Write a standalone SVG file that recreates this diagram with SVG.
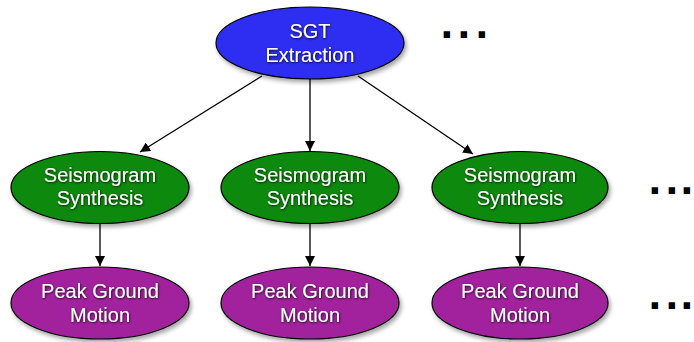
<svg xmlns="http://www.w3.org/2000/svg" width="694" height="342" viewBox="0 0 694 342">
  <defs>
    <filter id="shadow" x="-20%" y="-30%" width="140%" height="160%">
      <feDropShadow dx="2" dy="3" stdDeviation="2" flood-color="#000" flood-opacity="0.35"/>
    </filter>
    <filter id="textShadow" x="-10%" y="-30%" width="120%" height="160%">
      <feDropShadow dx="0.6" dy="0.8" stdDeviation="0.8" flood-color="#000" flood-opacity="0.9"/>
    </filter>
    <marker id="arrow" viewBox="0 0 10 10" refX="10" refY="5" markerWidth="10" markerHeight="10" markerUnits="userSpaceOnUse" orient="auto">
      <path d="M0,0 L10,5 L0,10 z" fill="#000"/>
    </marker>
    <style>
      .node ellipse { stroke: #000; stroke-width: 1.2; filter: url(#shadow); }
      .sgt ellipse { fill: #2d2df2; }
      .syn ellipse { fill: #078a07; }
      .pgm ellipse { fill: #a2239e; }
      .node text { font-family: "Liberation Sans", Arial, sans-serif; font-size: 20px; fill: #fff; text-anchor: middle; filter: url(#textShadow); }
      .edges line { stroke: #000; stroke-width: 1.3; marker-end: url(#arrow); }
      .more { font-family: "DejaVu Sans", sans-serif; font-weight: bold; font-size: 36px; fill: #000; }
    </style>
  </defs>

  <!-- connectors -->
  <g id="edges" class="edges">
    <line x1="262" y1="76" x2="140" y2="152"/>
    <line x1="310" y1="79" x2="310" y2="151"/>
    <line x1="358" y1="76" x2="473" y2="154"/>
    <line x1="100" y1="223" x2="100" y2="266"/>
    <line x1="310" y1="223" x2="310" y2="266"/>
    <line x1="520" y1="223" x2="520" y2="266"/>
  </g>

  <!-- top job -->
  <g id="sgt-extraction" class="node sgt">
    <ellipse cx="310" cy="43" rx="94" ry="36"/>
    <text x="310" y="38">SGT</text>
    <text x="310" y="62">Extraction</text>
  </g>

  <!-- seismogram synthesis jobs -->
  <g id="synthesis-1" class="node syn">
    <ellipse cx="100" cy="187.5" rx="89" ry="36"/>
    <text x="100" y="182">Seismogram</text>
    <text x="100" y="205">Synthesis</text>
  </g>
  <g id="synthesis-2" class="node syn">
    <ellipse cx="310" cy="187.5" rx="89" ry="36"/>
    <text x="310" y="182">Seismogram</text>
    <text x="310" y="205">Synthesis</text>
  </g>
  <g id="synthesis-3" class="node syn">
    <ellipse cx="520" cy="187.5" rx="88" ry="36"/>
    <text x="520" y="182">Seismogram</text>
    <text x="520" y="205">Synthesis</text>
  </g>

  <!-- peak ground motion jobs -->
  <g id="pgm-1" class="node pgm">
    <ellipse cx="100" cy="303" rx="89" ry="36"/>
    <text x="100" y="298">Peak Ground</text>
    <text x="100" y="322">Motion</text>
  </g>
  <g id="pgm-2" class="node pgm">
    <ellipse cx="310" cy="303" rx="89" ry="36"/>
    <text x="310" y="298">Peak Ground</text>
    <text x="310" y="322">Motion</text>
  </g>
  <g id="pgm-3" class="node pgm">
    <ellipse cx="520" cy="303" rx="88" ry="36"/>
    <text x="520" y="298">Peak Ground</text>
    <text x="520" y="322">Motion</text>
  </g>

  <!-- continuation marks -->
  <text class="more" x="440 457 475" y="38">...</text>
  <text class="more" x="648 665 680" y="194">...</text>
  <text class="more" x="648 665 680" y="309">...</text>
</svg>
